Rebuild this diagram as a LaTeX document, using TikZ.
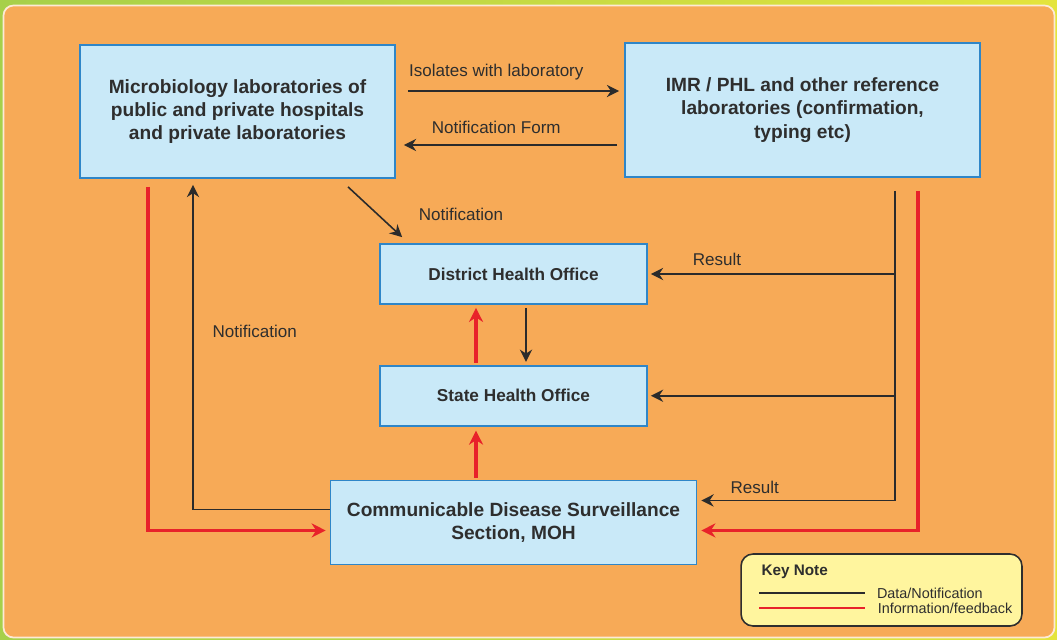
\documentclass[tikz,border=0pt]{standalone}
\usepackage{fontspec}
\setmainfont{Liberation Sans}
\usetikzlibrary{arrows.meta,positioning}

\definecolor{bggreen}{HTML}{A6D04A}
\definecolor{bgyellow}{HTML}{E4E43C}
\definecolor{bgorange}{HTML}{F7AA57}
\definecolor{boxblue}{HTML}{2F86C8}
\definecolor{boxfill}{HTML}{C9E9F8}
\definecolor{textgray}{HTML}{2E2E2E}
\definecolor{linegray}{HTML}{2B2B2B}
\definecolor{fbred}{HTML}{E8222A}
\definecolor{keyfill}{HTML}{FFF59E}

\begin{document}
\begin{tikzpicture}[
		x=0.02cm, y=-0.02cm,
		node distance=1.2cm,
		arrow/.style={draw=linegray, line width=0.9pt, -{Stealth[length=7pt, width=7pt]}},
		feedback/.style={draw=fbred, line width=2pt, -{Stealth[length=8pt, width=8pt]}},
		block/.style={draw=boxblue, line width=1pt, fill=boxfill, align=center, text=textgray, font=\bfseries\fontsize{10.9}{13.3}\selectfont},
		office/.style={block, minimum width=5.34cm, minimum height=1.2cm, font=\bfseries\fontsize{9.8}{11}\selectfont},
		note/.style={text=textgray, font=\fontsize{9.7}{11}\selectfont},
		keybox/.style={draw=textgray, line width=0.9pt, fill=keyfill, rounded corners=0.24cm},
	]
		\useasboundingbox (0,0) rectangle (1057,639);
		\fill[left color=bggreen, right color=bgyellow] (0,0) rectangle (1057,639);
		\filldraw[fill=bgorange, draw=white!75!bgorange, line width=1pt, rounded corners=0.2cm] (3.5,5.5) rectangle (1054.5,637.5);

		\node (micro) [block, minimum width=6.3cm, minimum height=2.66cm] at (237.5,111.5) {Microbiology laboratories of\\public and private hospitals\\and private laboratories};
		\node (imr) [block, minimum width=7.1cm, minimum height=2.68cm] at (802.5,110) {IMR / PHL and other reference\\laboratories (confirmation,\\typing etc)};
		\node (dho) [office] at (513.5,274) {District Health Office};
		\node (sho) [office, below=of dho] {State Health Office};
		\node (cdss) [block, minimum width=7.32cm, minimum height=1.68cm, below=1.06cm of sho] {Communicable Disease Surveillance\\Section, MOH};
		\node (key) [keybox, minimum width=5.62cm, minimum height=1.44cm] at (881.5,590) {};
		\node (keytitle) [anchor=north west, inner sep=0pt, text=textgray, font=\bfseries\fontsize{8.7}{10}\selectfont] at ([shift={(0.42cm,-0.22cm)}]key.north west) {Key Note};

		\coordinate (bus) at ([shift={(1.85cm,-0.26cm)}]imr.south);
		\coordinate (fb) at ([shift={(2.31cm,-0.26cm)}]imr.south);

		\draw[arrow, shorten <=0.24cm, shorten >=0.1cm] ([yshift=0.41cm]micro.east) -- ([yshift=0.41cm]micro.east -| imr.west) node[pos=0.44, above=2.5pt, note] {Isolates with laboratory};
		\draw[arrow, shorten <=0.14cm, shorten >=0.16cm] ([yshift=-0.67cm]micro.east -| imr.west) -- ([yshift=-0.67cm]micro.east) node[pos=0.56, above=2.5pt, note] {Notification Form};
		\draw[arrow] ([shift={(2.21cm,-0.16cm)}]micro.south) -- ([shift={(0.46cm,0.12cm)}]dho.north west) node[pos=0.54, right=0.7cm, note] {Notification};

		\draw[arrow, shorten <=0.06cm, shorten >=0.06cm] ([xshift=0.25cm]dho.south) -- ([xshift=0.25cm]sho.north);
		\draw[feedback, shorten <=0.04cm, shorten >=0.06cm] ([xshift=-0.75cm]sho.north) -- ([xshift=-0.75cm]dho.south);
		\draw[feedback, shorten <=0.04cm, shorten >=0.08cm] ([xshift=-0.75cm]sho.south |- cdss.north) -- ([xshift=-0.75cm]sho.south);

		\draw[arrow, shorten >=0.08cm] (bus) |- ([yshift=0.44cm]cdss.east) node[pos=0.855, above=0pt, note] {Result};
		\draw[arrow, shorten >=0.06cm] (bus |- dho.east) -- (dho.east) node[pos=0.72, above=1pt, note] {Result};
		\draw[arrow, shorten >=0.06cm] (bus |- sho.east) -- (sho.east);
		\draw[feedback, shorten >=0.08cm] (fb) |- ([yshift=-0.16cm]cdss.east);

		\draw[feedback, shorten >=0.08cm] ([shift={(-1.79cm,-0.16cm)}]micro.south) |- ([yshift=-0.16cm]cdss.west);
		\draw[arrow, shorten >=0.12cm] ([yshift=0.26cm]cdss.west) -| ([xshift=-0.89cm]micro.south) node[pos=0.77, right=0.26cm, note] {Notification};

		\draw[draw=linegray, line width=0.8pt] ([shift={(0.38cm,-0.06cm)}]key.west) -- ++(2.12cm,0) node[right=3pt, text=textgray, font=\fontsize{8.2}{9}\selectfont] {Data/Notification};
		\draw[draw=fbred, line width=1.6pt] ([shift={(0.38cm,-0.36cm)}]key.west) -- ++(2.12cm,0) node[right=3pt, text=textgray, font=\fontsize{8.2}{9}\selectfont] {Information/feedback};
	\end{tikzpicture}
\end{document}
